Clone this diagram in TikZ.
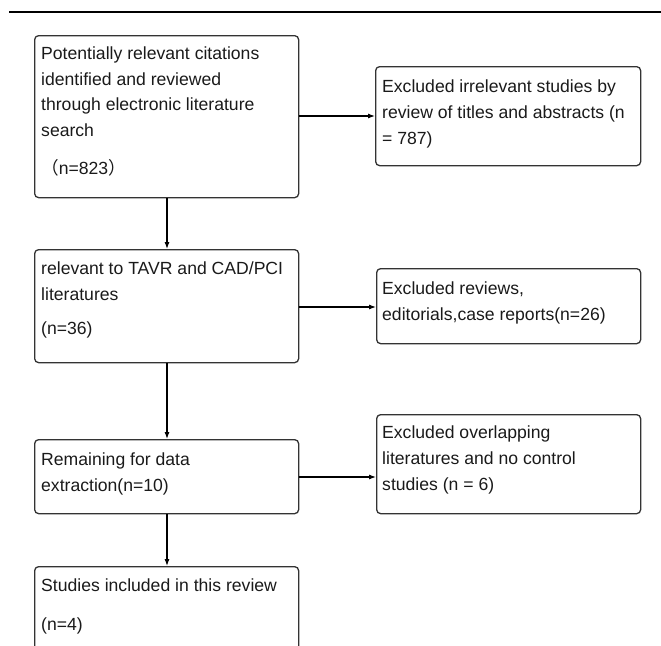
\documentclass[tikz,border=0pt]{standalone}
\usepackage{fontspec}
\setmainfont{Liberation Sans}
\newfontfamily\cjk{Noto Sans CJK SC}
\usetikzlibrary{arrows.meta}
\definecolor{edge}{HTML}{333333}
\definecolor{ink}{HTML}{1A1A1A}
\tikzset{
  box/.style={draw=edge, line width=1.3pt, rounded corners=4pt, anchor=north west, inner sep=0pt},
  txt/.style={anchor=base west, align=left, inner sep=0pt, text=ink, font=\fontsize{17.6}{25.6}\selectfont},
  conn/.style={draw=black, line width=1.1pt, -{Latex[length=7pt,width=5pt]}},
}
\begin{document}
\begin{tikzpicture}[x=1pt,y=-1pt]
\clip (0,0) rectangle (661,645);
\draw[line width=2.4pt] (9,12) coordinate (rl) -- (661,12) coordinate (rr);
% boxes
\node[box, minimum width=264pt, minimum height=162pt] (b1) at (34,35) {};
\node[box, minimum width=265pt, minimum height=99pt] (b2) at (375,66) {};
\node[box, minimum width=264pt, minimum height=113pt] (b3) at (34,249) {};
\node[box, minimum width=264pt, minimum height=75pt] (b4) at (376,268) {};
\node[box, minimum width=264pt, minimum height=74pt] (b5) at (34,439) {};
\node[box, minimum width=264pt, minimum height=99pt] (b6) at (376,414) {};
\node[box, minimum width=264pt, minimum height=120pt] (b7) at (34,566) {};
% texts (anchored at the baseline of their last line)
\node[txt] (t1) at (41,174) {Potentially relevant citations\\identified and reviewed\\through electronic literature\\search\\[12pt]{\cjk （}n=823{\cjk ）}};
\node[txt] (t2) at (382,144) {Excluded irrelevant studies by\\review of titles and abstracts (n\\= 787)};
\node[txt] (t3) at (41,334) {relevant to TAVR and CAD/PCI\\literatures\\[8pt](n=36)};
\node[txt] (t4) at (382,320) {Excluded reviews,\\editorials,case reports(n=26)};
\node[txt] (t5) at (41,491) {Remaining for data\\extraction(n=10)};
\node[txt] (t6) at (382,490) {Excluded overlapping\\literatures and no control\\studies (n = 6)};
\node[txt] (t7) at (41,630) {Studies included in this review\\[13pt](n=4)};
% connectors
\draw[conn] (b1.east |- 0,116) -- (b2.west |- 0,116);
\draw[conn] (b3.east |- 0,307) -- (b4.west |- 0,307);
\draw[conn] (b5.east |- 0,477) -- (b6.west |- 0,477);
\draw[conn] (b1.south -| 167,0) -- (b3.north -| 167,0);
\draw[conn] (b3.south -| 167,0) -- (b5.north -| 167,0);
\draw[conn] (b5.south -| 167,0) -- (b7.north -| 167,0);
\end{tikzpicture}
\end{document}
